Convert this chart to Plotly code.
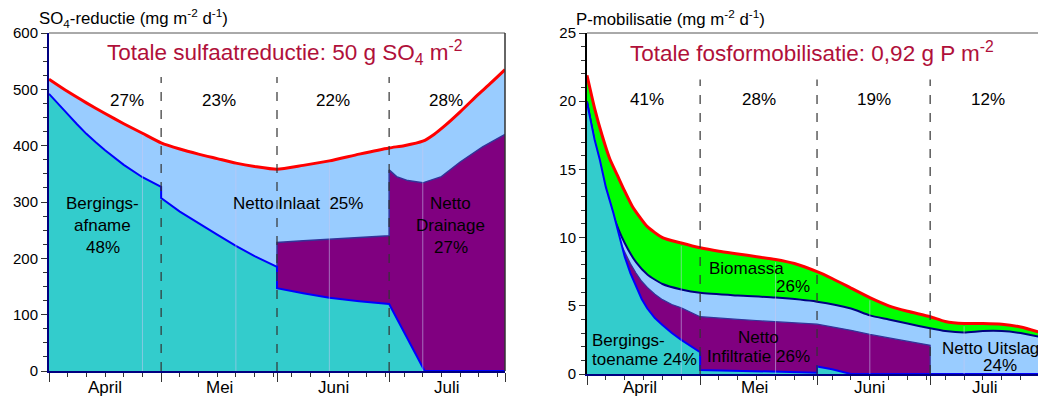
import numpy as np
import plotly.graph_objects as go

# ---------------- data ----------------
months = ["April", "Mei", "Juni", "Juli"]
month_days = [30, 31, 30, 31]

# Left panel: SO4-reductie (mg m-2 d-1), cumulative boundaries
so4_total_days = [0, 5, 10, 15, 20, 25, 30, 35, 40, 45, 50, 55, 61, 68, 75, 83, 91, 95, 100, 103, 106, 110, 115, 118, 122]
so4_total = [518, 496, 476, 457, 439, 422, 405, 394, 385, 377, 369, 363, 358, 365, 373, 385, 396, 400, 408, 420, 436, 460, 492, 510, 535]
so4_drain_days = [61, 61, 68, 75, 83, 91, 91, 93, 96, 100, 105, 110, 116, 122]
so4_drain = [147, 228, 231, 234, 237, 240, 357, 345, 338, 334, 345, 371, 398, 420]
so4_berg_days = [0, 2.5, 5, 7.5, 10, 12.5, 15, 20, 25, 30, 30, 35, 40, 45, 50, 55, 61, 61, 68, 75, 83, 91, 100.5, 122]
so4_berg = [492, 473, 456, 438, 421, 406, 392, 366, 344, 327, 307, 283, 262, 242, 222, 204, 185, 147, 138, 130, 124, 119, 0, 0]
so4_month_share = ["27%", "23%", "22%", "28%"]

# Right panel: P-mobilisatie (mg m-2 d-1), cumulative boundaries
p_total_days = [0, 2, 4, 6, 8, 10, 12, 14, 16, 20, 25, 30, 35, 40, 45, 50, 55, 61, 65, 70, 75, 80, 85, 91, 95, 100, 105, 110, 115, 122]
p_total = [21.9, 19.5, 17.5, 15.8, 14.6, 13.4, 12.3, 11.5, 10.8, 10.0, 9.6, 9.25, 9.0, 8.8, 8.6, 8.4, 8.1, 7.5, 7.0, 6.3, 5.6, 5.0, 4.6, 4.2, 3.85, 3.7, 3.7, 3.65, 3.45, 2.9]
p_uitslag_days = [0, 2, 4, 6.7, 10, 13, 16, 20, 25, 30, 40, 50, 61, 70, 75, 80, 85, 91, 95, 100, 105, 110, 115, 122]
p_uitslag = [20.0, 17.0, 14.3, 11.8, 9.6, 8.2, 7.3, 6.6, 6.2, 5.95, 5.75, 5.6, 5.3, 4.8, 4.3, 4.0, 3.7, 3.35, 3.15, 3.05, 3.15, 3.15, 3.0, 2.6]
p_infil_days = [0, 2, 4, 6.7, 8.5, 10, 11.5, 13, 14.5, 16, 18, 20, 22.5, 25, 27.5, 30, 40, 50, 61, 70, 75, 83, 91, 91]
p_infil = [20.0, 16.5, 13.6, 11.0, 9.8, 8.9, 8.1, 7.4, 6.8, 6.35, 5.85, 5.45, 5.1, 4.85, 4.5, 4.2, 4.0, 3.85, 3.65, 3.2, 2.9, 2.5, 2.1, 0]
p_berg_days = [0, 2, 3.4, 5, 7, 8.5, 10, 11.5, 13, 14.5, 16, 18, 20, 22.5, 25, 27.5, 30, 30, 45, 61, 61, 65, 70, 122]
p_berg = [19.9, 17.2, 15.7, 13.7, 11.8, 10.1, 8.6, 7.4, 6.4, 5.5, 4.8, 4.1, 3.6, 3.0, 2.5, 2.05, 1.6, 0.3, 0.2, 0.1, 0.55, 0.35, 0, 0]
p_month_share = ["41%", "28%", "19%", "12%"]

# ---------------- styling ----------------
FONT = "Liberation Sans, Arial, sans-serif"
TEAL, PURPLE, LBLUE, GREEN = "#33CCCC", "#800080", "#99CCFF", "#00FF00"
RED, BLUE, NAVY = "#FF0000", "#0000FF", "#000080"
TITLE_RED = "#B0103A"
W, H = 1038, 396
LS = 17  # label font size

bounds = list(np.cumsum([0] + month_days))
mid_month = [(bounds[i] + bounds[i + 1]) / 2 for i in range(len(months))]

fig = go.Figure()

def area(x, y, fill, line_color, line_w, xa, ya, shape="linear", sm=0.6):
    fig.add_trace(go.Scatter(x=x, y=y, mode="lines", fill="tozeroy", fillcolor=fill,
                             line=dict(color=line_color, width=line_w, shape=shape, smoothing=sm),
                             xaxis=xa, yaxis=ya, hoverinfo="skip"))

# left panel
area(so4_total_days, so4_total, LBLUE, "rgba(0,0,0,0)", 0, "x", "y", "spline")
area(so4_drain_days, so4_drain, PURPLE, "#333399", 1.5, "x", "y")
area(so4_berg_days, so4_berg, TEAL, BLUE, 2, "x", "y")
fig.add_trace(go.Scatter(x=so4_total_days, y=so4_total, mode="lines",
                         line=dict(color=RED, width=3, shape="spline", smoothing=0.6),
                         xaxis="x", yaxis="y", hoverinfo="skip"))

# right panel
area(p_total_days, p_total, GREEN, "rgba(0,0,0,0)", 0, "x2", "y2", "spline")
area(p_uitslag_days, p_uitslag, LBLUE, NAVY, 2, "x2", "y2", "spline")
area(p_infil_days, p_infil, PURPLE, "#333399", 1.2, "x2", "y2")
area(p_berg_days, p_berg, TEAL, BLUE, 2, "x2", "y2")
fig.add_trace(go.Scatter(x=p_total_days, y=p_total, mode="lines",
                         line=dict(color=RED, width=3, shape="spline", smoothing=0.6),
                         xaxis="x2", yaxis="y2", hoverinfo="skip"))

minor_x = [d for d in range(5, bounds[-1], 5) if d not in bounds]

def xaxis_cfg(domain, rng, anchor):
    return dict(domain=domain, range=rng, anchor=anchor, showgrid=False, zeroline=False,
                automargin=False,
                tickmode="array", tickvals=bounds, showticklabels=False,
                ticks="outside", ticklen=9, tickwidth=1, tickcolor="#333",
                minor=dict(tickmode="array", tickvals=minor_x, ticks="outside",
                           ticklen=4, tickwidth=1, tickcolor="#333", showgrid=False),
                showline=True, linecolor=NAVY, linewidth=2, fixedrange=True)

def yaxis_cfg(domain, rng, dtick, mdtick, anchor, linecolor):
    return dict(domain=domain, range=rng, anchor=anchor, showgrid=False, zeroline=False,
                automargin=False,
                dtick=dtick, tick0=0, ticks="outside", ticklen=6, tickwidth=1, tickcolor="#333",
                minor=dict(dtick=mdtick, tick0=0, ticks="outside", ticklen=4, tickwidth=1,
                           tickcolor="#333", showgrid=False),
                tickfont=dict(family=FONT, size=15, color="#000"),
                showline=True, linecolor=linecolor, linewidth=2, fixedrange=True)

fig.update_layout(
    width=W, height=H, margin=dict(l=0, r=0, t=0, b=0, autoexpand=False),
    paper_bgcolor="white", plot_bgcolor="white", showlegend=False,
    font=dict(family=FONT, size=LS, color="#000"),
    xaxis=xaxis_cfg([49 / W, 505 / W], [0, bounds[-1]], "y"),
    yaxis=yaxis_cfg([25 / H, 363 / H], [0, 600], 100, 25, "x", NAVY),
    xaxis2=xaxis_cfg([587 / W, 1.0], [0, 119.6], "y2"),
    yaxis2=yaxis_cfg([22 / H, 363 / H], [0, 25], 5, 1, "x2", "#000"),
)

shapes = []
# frame lines (top / right)
shapes.append(dict(type="line", xref="x domain", yref="y domain", x0=0, x1=1, y0=1, y1=1,
                   line=dict(color="#555", width=1), layer="above"))
shapes.append(dict(type="line", xref="x domain", yref="y domain", x0=1, x1=1, y0=0, y1=1,
                   line=dict(color="#333", width=1.5), layer="above"))
shapes.append(dict(type="line", xref="x2 domain", yref="y2 domain", x0=0, x1=1, y0=1, y1=1,
                   line=dict(color="#555", width=1), layer="above"))
# faint guide lines inside the filled area
for xa, ya, dd, tt in [("x", "y", so4_total_days, so4_total), ("x2", "y2", p_total_days, p_total)]:
    for g in [25, 50, 75, 100]:
        shapes.append(dict(type="line", xref=xa, yref=ya, x0=g, x1=g, y0=0,
                           y1=float(np.interp(g, dd, tt)) - (4 if ya == "y" else 0.2),
                           line=dict(color="rgba(200,200,240,0.55)", width=1), layer="above"))
# dashed month boundaries
for b in bounds[1:-1]:
    shapes.append(dict(type="line", xref="x", yref="y", x0=b, x1=b, y0=0, y1=522,
                       line=dict(color="#333", width=1.2, dash="dash"), layer="above"))
    shapes.append(dict(type="line", xref="x2", yref="y2", x0=b, x1=b, y0=0, y1=21.6,
                       line=dict(color="#333", width=1.2, dash="dash"), layer="above"))
fig.update_layout(shapes=shapes)

ann = []
def t(text, x, y, xref, yref, size=LS, color="#000", xanchor="center"):
    ann.append(dict(text=text, x=x, y=y, xref=xref, yref=yref, showarrow=False,
                    font=dict(family=FONT, size=size, color=color),
                    xanchor=xanchor, yanchor="middle"))

# titles
t("SO<sub>4</sub>-reductie (mg m<sup>-2</sup> d<sup>-1</sup>)", 37 / W, 1 - 18 / H, "paper", "paper", 16.8, xanchor="left")
t("P-mobilisatie (mg m<sup>-2</sup> d<sup>-1</sup>)", 574 / W, 1 - 18 / H, "paper", "paper", 16.8, xanchor="left")
t("Totale sulfaatreductie: 50 g SO<sub>4</sub> m<sup>-2</sup>", 62.9, 566, "x", "y", 22.5, TITLE_RED)
t("Totale fosformobilisatie: 0,92 g P m<sup>-2</sup>", 59.7, 23.6, "x2", "y2", 22.5, TITLE_RED)

# month labels
for m, c in zip(months, mid_month):
    t(m, c, 9 / H, "x", "paper")
    t(m, c - 1, 9 / H, "x2", "paper")

# monthly shares
for s, xd in zip(so4_month_share, [20.9, 45.5, 76, 106.2]):
    t(s, xd, 481, "x", "y")
for s, xd in zip(p_month_share, [15.9, 45.6, 76.1, 106.4]):
    t(s, xd, 20.1, "x2", "y2")

# component labels left
t("Bergings-", 14.4, 298, "x", "y")
t("afname", 14.4, 259, "x", "y")
t("48%", 14.4, 220, "x", "y")
t("Netto Inlaat  25%", 66.6, 298, "x", "y")
t("Netto", 107.5, 298, "x", "y")
t("Drainage", 107.5, 259, "x", "y")
t("27%", 107.5, 220, "x", "y")

# component labels right
t("Biomassa", 31.8, 7.77, "x2", "y2", xanchor="left")
t("26%", 59.7, 6.38, "x2", "y2", xanchor="right")
t("Netto", 45.6, 2.64, "x2", "y2")
t("Infiltratie 26%", 45.6, 1.25, "x2", "y2")
t("Netto Uitslag", 93.6, 1.9, "x2", "y2", xanchor="left")
t("24%", 109.5, 0.66, "x2", "y2")
t("Bergings-", 0.8, 2.42, "x2", "y2", xanchor="left")
t("toename 24%", 0.8, 1.1, "x2", "y2", xanchor="left")

fig.update_layout(annotations=ann)
fig.write_html("out.html")
